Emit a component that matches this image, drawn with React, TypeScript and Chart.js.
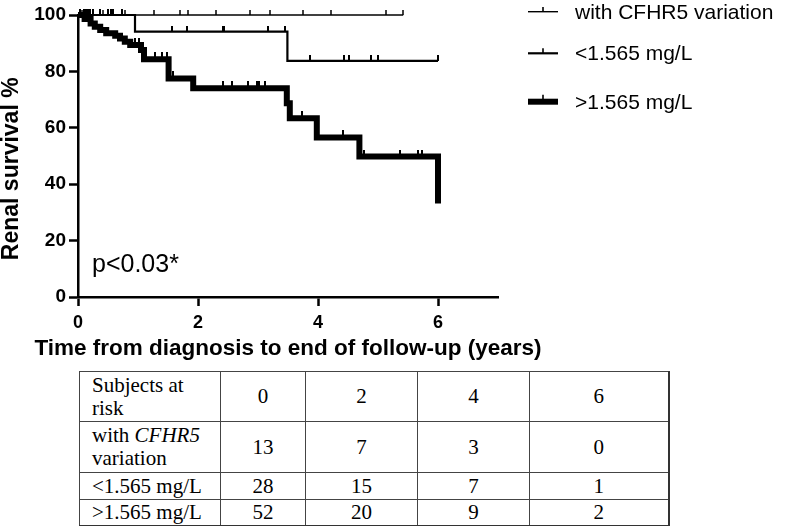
import React, { useEffect, useRef } from 'react';
import { Chart, registerables } from 'chart.js';

Chart.register(...registerables);

const SANS = "'Liberation Sans', Arial, Helvetica, sans-serif";
const SERIF = "'Liberation Serif', 'Times New Roman', Times, serif";

// ---------- data ----------
const seriesNames = ['with CFHR5 variation', '<1.565 mg/L', '>1.565 mg/L'];

// Kaplan–Meier steps: time (years) and survival (%) after each event
const cfhr5Times = [0, 5.42];
const cfhr5Values = [100, 100];
const cfhr5Censored = [0.06, 0.42, 0.78, 1.26, 1.7, 1.84, 2.3, 2.86, 3.2, 3.75, 4.22, 5.13, 5.42];

const lowTimes = [0, 0.95, 3.49, 6.0];
const lowValues = [100, 94.1, 83.7, 83.7];
const lowCensored = [0.03, 0.1, 0.13, 0.17, 0.2, 0.25, 0.37, 0.5, 0.55, 0.58, 0.73, 1.56, 1.81, 2.41, 2.44, 3.17, 3.45, 3.87, 4.44, 4.52, 4.88, 5.0, 6.0];

const highTimes = [0, 0.11, 0.21, 0.28, 0.37, 0.47, 0.62, 0.7, 0.78, 0.87, 1.05, 1.1, 1.51, 1.92, 3.48, 3.53, 3.98, 4.69, 6.0];
const highValues = [100, 98.6, 97.0, 95.8, 94.7, 93.5, 92.6, 91.7, 90.5, 89.4, 87.6, 84.3, 77.5, 74.0, 68.7, 63.4, 56.6, 49.8, 33.2];
const highCensored = [0.95, 1.01, 1.28, 1.4, 1.48, 1.59, 2.42, 2.56, 2.84, 2.98, 3.02, 3.12, 3.73, 4.42, 4.77, 5.37, 5.67, 5.73];

const xTicks = [0, 2, 4, 6];
const yTicks = [0, 20, 40, 60, 80, 100];

const xTitle = 'Time from diagnosis to end of follow-up (years)';
const yTitle = 'Renal survival %';
const pValueText = 'p<0.03*';

const riskTimes = ['0', '2', '4', '6'];
const riskCfhr5 = [13, 7, 3, 0];
const riskLow = [28, 15, 7, 1];
const riskHigh = [52, 20, 9, 2];

// ---------- helpers ----------
function survivalAt(times: number[], values: number[], t: number) {
  let v = values[0];
  for (let i = 0; i < times.length; i++) {
    if (times[i] <= t) v = values[i];
  }
  return v;
}

function makeTick(w: number, above: number) {
  const c = document.createElement('canvas');
  c.width = Math.ceil(w);
  c.height = Math.ceil(above * 2);
  const g = c.getContext('2d')!;
  g.fillStyle = '#000';
  g.fillRect((c.width - w) / 2, 0, w, above);
  return c;
}

const lineWidths = [1.4, 2.2, 6];

const overlayPlugin = {
  id: 'kmOverlay',
  afterDraw(chart: any) {
    const { ctx, chartArea } = chart;
    ctx.save();
    ctx.fillStyle = '#000';

    // x-axis title (wider than the plot, as in the original)
    ctx.font = `bold 22.5px ${SANS}`;
    ctx.textAlign = 'center';
    ctx.textBaseline = 'alphabetic';
    ctx.fillText(xTitle, (chartArea.left + chartArea.right) / 2, chartArea.bottom + 58);

    // p value
    ctx.font = `25px ${SANS}`;
    ctx.textAlign = 'left';
    ctx.fillText(pValueText, chartArea.left + 14, chartArea.bottom - 25);

    // legend
    const rows = [11.7, 53.3, 101.7];
    const x0 = chartArea.right + 30;
    for (let i = 0; i < 3; i++) {
      const ds = chart.data.datasets[i];
      const y = rows[i];
      ctx.strokeStyle = '#000';
      ctx.lineWidth = ds.borderWidth;
      ctx.lineCap = 'butt';
      ctx.beginPath();
      ctx.moveTo(x0, y);
      ctx.lineTo(x0 + 30, y);
      ctx.stroke();
      ctx.lineWidth = 1.6;
      ctx.beginPath();
      ctx.moveTo(x0 + 15, y);
      ctx.lineTo(x0 + 15, y - ds.borderWidth / 2 - 4);
      ctx.stroke();
      ctx.font = `21px ${SANS}`;
      ctx.fillText(ds.label, x0 + 47, y + 7);
    }
    ctx.restore();
  },
};

function ChartCanvas() {
  const ref = useRef<HTMLCanvasElement | null>(null);
  useEffect(() => {
    if (!ref.current) return;
    const ticks = [makeTick(1.5, 5), makeTick(2, 6), makeTick(2, 7)];
    const curves = [
      { t: cfhr5Times, v: cfhr5Values, c: cfhr5Censored },
      { t: lowTimes, v: lowValues, c: lowCensored },
      { t: highTimes, v: highValues, c: highCensored },
    ];
    const lineSets = curves.map((s, i) => ({
      type: 'line' as const,
      label: seriesNames[i],
      data: s.t.map((t, j) => ({ x: t, y: s.v[j] })),
      stepped: true,
      borderColor: '#000',
      backgroundColor: '#000',
      borderWidth: lineWidths[i],
      borderCapStyle: 'butt',
      borderJoinStyle: 'miter',
      pointRadius: 0,
      fill: false,
      clip: false,
      order: 3 - i,
    }));
    const censorSets = curves.map((s, i) => ({
      type: 'line' as const,
      label: seriesNames[i] + ' censored',
      data: s.c.map((t) => ({ x: t, y: survivalAt(s.t, s.v, t) })),
      showLine: false,
      pointStyle: ticks[i],
      pointRadius: 4,
      pointHoverRadius: 4,
      borderColor: '#000',
      backgroundColor: '#000',
      clip: false,
      order: 0,
    }));

    const chart = new Chart(ref.current, {
      type: 'line',
      data: { datasets: [...lineSets, ...censorSets] as any },
      options: {
        animation: false,
        responsive: false,
        events: [],
        layout: { padding: { left: 0, top: 15, right: 289, bottom: 0 } },
        plugins: { legend: { display: false }, tooltip: { enabled: false } },
        scales: {
          x: {
            type: 'linear',
            min: 0,
            max: 7,
            afterBuildTicks: (s: any) => {
              s.ticks = xTicks.map((v) => ({ value: v }));
            },
            afterFit: (s: any) => {
              s.height = 73;
            },
            ticks: {
              color: '#000',
              font: { family: SANS, size: 18, weight: 'bold' },
              padding: 6,
              maxRotation: 0,
            },
            grid: { drawOnChartArea: false, drawTicks: true, tickLength: 9, tickWidth: 2.5, tickColor: '#000' },
            border: { display: true, color: '#000', width: 2.5 },
            title: { display: false },
          },
          y: {
            type: 'linear',
            min: 0,
            max: 100,
            afterBuildTicks: (s: any) => {
              s.ticks = yTicks.map((v) => ({ value: v }));
            },
            afterFit: (s: any) => {
              s.width = 78;
            },
            ticks: {
              color: '#000',
              font: { family: SANS, size: 19, weight: 'bold' },
              padding: 3,
            },
            grid: { drawOnChartArea: false, drawTicks: true, tickLength: 9, tickWidth: 2.5, tickColor: '#000' },
            border: { display: true, color: '#000', width: 2.5 },
            title: {
              display: true,
              text: yTitle + '    ',
              color: '#000',
              font: { family: SANS, size: 23, weight: 'bold', lineHeight: 1 },
              padding: 0,
            },
          },
        },
      } as any,
      plugins: [overlayPlugin],
    });
    return () => chart.destroy();
  }, []);
  return <canvas ref={ref} width={787} height={370} style={{ position: 'absolute', left: 0, top: 0 }} />;
}

const border = '1px solid #444';
const labelCell: React.CSSProperties = {
  border,
  padding: '0 0 0 12px',
  textAlign: 'left',
  verticalAlign: 'middle',
};
const numCell: React.CSSProperties = {
  border,
  padding: 0,
  textAlign: 'center',
  verticalAlign: 'middle',
};

function RiskTable() {
  const rows: { label: React.ReactNode; values: (string | number)[]; h: number }[] = [
    { label: <>Subjects at<br />risk</>, values: riskTimes, h: 50 },
    { label: <>with <i>CFHR5</i><br />variation</>, values: riskCfhr5, h: 51 },
    { label: seriesNames[1], values: riskLow, h: 27 },
    { label: seriesNames[2], values: riskHigh, h: 26 },
  ];
  const colW = [141, 85, 112, 112, 139];
  return (
    <table
      style={{
        position: 'absolute',
        left: 79,
        top: 371,
        borderCollapse: 'collapse',
        tableLayout: 'fixed',
        width: colW.reduce((a, b) => a + b, 0),
        fontFamily: SERIF,
        fontSize: 21,
        lineHeight: '23px',
        color: '#000',
        borderBottom: '2px solid #333',
        borderRight: '2px solid #333',
      }}
    >
      <colgroup>
        {colW.map((w, i) => (
          <col key={i} style={{ width: w }} />
        ))}
      </colgroup>
      <tbody>
        {rows.map((r, i) => (
          <tr key={i} style={{ height: r.h }}>
            <td style={labelCell}>{r.label}</td>
            {r.values.map((v, j) => (
              <td key={j} style={numCell}>
                {v}
              </td>
            ))}
          </tr>
        ))}
      </tbody>
    </table>
  );
}

export default function App() {
  return (
    <div style={{ position: 'absolute', left: 0, top: 0, width: 787, height: 526, background: '#fff' }}>
      <ChartCanvas />
      <RiskTable />
    </div>
  );
}
